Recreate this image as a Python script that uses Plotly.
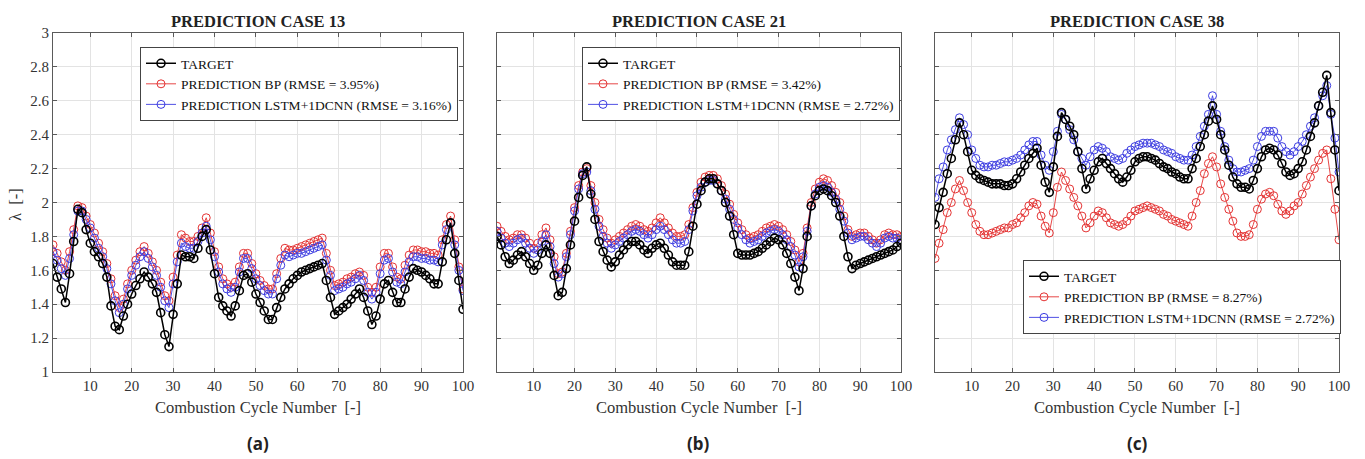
import plotly.graph_objects as go

cycles = list(range(1, 101))

# ---- Case 13 ----
c13_target = [1.64, 1.56, 1.49, 1.41, 1.58, 1.77, 1.96, 1.94, 1.84, 1.76,
              1.71, 1.68, 1.64, 1.56, 1.39, 1.27, 1.25, 1.33, 1.40, 1.46,
              1.51, 1.55, 1.59, 1.56, 1.52, 1.47, 1.35, 1.22, 1.15, 1.34,
              1.52, 1.69, 1.68, 1.68, 1.67, 1.73, 1.80, 1.84, 1.72, 1.58,
              1.44, 1.39, 1.36, 1.33, 1.39, 1.48, 1.57, 1.58, 1.53, 1.46,
              1.41, 1.36, 1.31, 1.31, 1.38, 1.44, 1.49, 1.52, 1.55, 1.57,
              1.59, 1.60, 1.61, 1.62, 1.63, 1.64, 1.54, 1.44, 1.34, 1.36,
              1.38, 1.40, 1.43, 1.46, 1.49, 1.44, 1.36, 1.28, 1.33, 1.43,
              1.52, 1.54, 1.47, 1.41, 1.41, 1.49, 1.56, 1.61, 1.60, 1.59,
              1.57, 1.55, 1.52, 1.52, 1.65, 1.78, 1.88, 1.70, 1.54, 1.37]
c13_bp = [1.75, 1.70, 1.65, 1.60, 1.71, 1.84, 1.98, 1.97, 1.92, 1.87,
          1.82, 1.76, 1.71, 1.64, 1.55, 1.45, 1.38, 1.43, 1.52, 1.60,
          1.66, 1.71, 1.74, 1.70, 1.65, 1.60, 1.53, 1.45, 1.42, 1.56,
          1.69, 1.81, 1.79, 1.77, 1.77, 1.80, 1.85, 1.91, 1.82, 1.71,
          1.62, 1.55, 1.52, 1.50, 1.53, 1.62, 1.70, 1.70, 1.64, 1.58,
          1.54, 1.51, 1.49, 1.49, 1.58, 1.67, 1.73, 1.72, 1.72, 1.73,
          1.74, 1.75, 1.76, 1.77, 1.78, 1.79, 1.70, 1.60, 1.51, 1.52,
          1.53, 1.55, 1.56, 1.58, 1.59, 1.57, 1.50, 1.47, 1.50, 1.62,
          1.70, 1.70, 1.62, 1.56, 1.55, 1.63, 1.69, 1.72, 1.72, 1.71,
          1.71, 1.70, 1.70, 1.69, 1.78, 1.87, 1.92, 1.78, 1.62, 1.49]
c13_lstm = [1.71, 1.66, 1.61, 1.57, 1.67, 1.81, 1.95, 1.95, 1.90, 1.85,
            1.79, 1.73, 1.68, 1.61, 1.52, 1.42, 1.35, 1.40, 1.49, 1.57,
            1.63, 1.68, 1.71, 1.67, 1.62, 1.57, 1.50, 1.42, 1.38, 1.52,
            1.65, 1.76, 1.74, 1.73, 1.73, 1.77, 1.82, 1.86, 1.78, 1.68,
            1.59, 1.52, 1.49, 1.47, 1.50, 1.59, 1.67, 1.67, 1.61, 1.55,
            1.51, 1.48, 1.46, 1.46, 1.55, 1.63, 1.69, 1.68, 1.69, 1.70,
            1.70, 1.71, 1.72, 1.73, 1.74, 1.75, 1.66, 1.57, 1.48, 1.49,
            1.50, 1.52, 1.53, 1.55, 1.57, 1.54, 1.47, 1.43, 1.47, 1.58,
            1.66, 1.67, 1.59, 1.53, 1.52, 1.59, 1.65, 1.68, 1.68, 1.67,
            1.67, 1.66, 1.66, 1.65, 1.75, 1.84, 1.88, 1.75, 1.60, 1.48]

# ---- Case 21 ----
c21_target = [1.80, 1.75, 1.68, 1.64, 1.66, 1.69, 1.71, 1.68, 1.64, 1.60,
              1.63, 1.70, 1.75, 1.70, 1.57, 1.45, 1.47, 1.61, 1.75, 1.89,
              2.03, 2.16, 2.21, 2.05, 1.90, 1.77, 1.71, 1.66, 1.62, 1.65,
              1.69, 1.72, 1.75, 1.77, 1.77, 1.75, 1.72, 1.70, 1.73, 1.75,
              1.76, 1.73, 1.69, 1.65, 1.63, 1.63, 1.63, 1.71, 1.86, 1.99,
              2.07, 2.12, 2.14, 2.14, 2.11, 2.07, 2.00, 1.92, 1.81, 1.70,
              1.69, 1.69, 1.69, 1.70, 1.71, 1.73, 1.75, 1.77, 1.79, 1.78,
              1.75, 1.70, 1.64, 1.56, 1.48, 1.61, 1.80, 1.98, 2.04, 2.07,
              2.08, 2.07, 2.04, 2.00, 1.92, 1.80, 1.68, 1.61, 1.63, 1.64,
              1.65, 1.66, 1.67, 1.68, 1.69, 1.70, 1.71, 1.72, 1.74, 1.76]
c21_bp = [1.86, 1.83, 1.80, 1.78, 1.79, 1.81, 1.81, 1.79, 1.76, 1.73,
          1.76, 1.81, 1.85, 1.78, 1.68, 1.58, 1.59, 1.70, 1.83, 1.97,
          2.10, 2.18, 2.20, 2.10, 2.00, 1.90, 1.84, 1.79, 1.76, 1.78,
          1.80, 1.82, 1.84, 1.86, 1.87, 1.86, 1.84, 1.83, 1.85, 1.88,
          1.91, 1.88, 1.85, 1.82, 1.80, 1.80, 1.81, 1.87, 1.97, 2.06,
          2.12, 2.15, 2.16, 2.16, 2.14, 2.10, 2.05, 1.99, 1.93, 1.88,
          1.84, 1.81, 1.79, 1.80, 1.81, 1.83, 1.85, 1.86, 1.87, 1.86,
          1.84, 1.81, 1.77, 1.72, 1.65, 1.70, 1.85, 2.00, 2.08, 2.12,
          2.14, 2.13, 2.10, 2.06, 2.00, 1.92, 1.84, 1.80, 1.81, 1.82,
          1.82, 1.80, 1.78, 1.76, 1.78, 1.81, 1.82, 1.81, 1.81, 1.80]
c21_lstm = [1.83, 1.79, 1.76, 1.74, 1.76, 1.78, 1.79, 1.76, 1.73, 1.70,
            1.72, 1.77, 1.81, 1.74, 1.64, 1.56, 1.58, 1.68, 1.81, 1.95,
            2.08, 2.17, 2.18, 2.07, 1.96, 1.86, 1.80, 1.76, 1.73, 1.75,
            1.77, 1.79, 1.81, 1.83, 1.84, 1.83, 1.81, 1.79, 1.81, 1.84,
            1.86, 1.84, 1.81, 1.78, 1.76, 1.76, 1.77, 1.84, 1.95, 2.04,
            2.09, 2.12, 2.13, 2.13, 2.11, 2.07, 2.02, 1.96, 1.90, 1.85,
            1.81, 1.78, 1.76, 1.77, 1.78, 1.80, 1.82, 1.83, 1.84, 1.83,
            1.81, 1.78, 1.74, 1.69, 1.62, 1.68, 1.83, 1.98, 2.05, 2.09,
            2.10, 2.09, 2.06, 2.02, 1.96, 1.89, 1.82, 1.78, 1.79, 1.80,
            1.80, 1.78, 1.76, 1.74, 1.76, 1.79, 1.80, 1.79, 1.79, 1.78]

# ---- Case 38 ----
c38_target = [1.87, 1.97, 2.06, 2.17, 2.26, 2.37, 2.47, 2.40, 2.30, 2.19,
              2.16, 2.14, 2.13, 2.12, 2.11, 2.11, 2.11, 2.10, 2.10, 2.11,
              2.14, 2.18, 2.22, 2.26, 2.29, 2.32, 2.22, 2.12, 2.06, 2.21,
              2.39, 2.53, 2.49, 2.45, 2.40, 2.30, 2.20, 2.08, 2.14, 2.19,
              2.24, 2.26, 2.23, 2.20, 2.17, 2.14, 2.12, 2.15, 2.19, 2.24,
              2.26, 2.27, 2.27, 2.26, 2.25, 2.23, 2.21, 2.20, 2.18, 2.17,
              2.15, 2.14, 2.14, 2.20, 2.26, 2.33, 2.40, 2.48, 2.57, 2.49,
              2.40, 2.31, 2.22, 2.15, 2.11, 2.09, 2.09, 2.08, 2.13, 2.20,
              2.27, 2.31, 2.32, 2.31, 2.28, 2.23, 2.18, 2.16, 2.17, 2.20,
              2.24, 2.31, 2.39, 2.47, 2.57, 2.65, 2.75, 2.53, 2.31, 2.07]
c38_bp = [1.67, 1.76, 1.84, 1.94, 2.00, 2.08, 2.13, 2.07, 2.00, 1.94,
          1.87, 1.83, 1.81, 1.81, 1.82, 1.83, 1.84, 1.85, 1.85, 1.87,
          1.88, 1.91, 1.94, 1.98, 2.00, 1.99, 1.92, 1.86, 1.82, 1.94,
          2.09, 2.18, 2.13, 2.08, 2.03, 1.98, 1.92, 1.85, 1.88, 1.92,
          1.95, 1.94, 1.91, 1.88, 1.87, 1.86, 1.87, 1.89, 1.92, 1.95,
          1.96, 1.97, 1.98, 1.97, 1.96, 1.95, 1.93, 1.92, 1.90, 1.89,
          1.88, 1.87, 1.86, 1.92, 2.00, 2.07, 2.17, 2.23, 2.27, 2.21,
          2.11, 2.03, 1.96, 1.89, 1.82, 1.80, 1.80, 1.81, 1.87, 1.96,
          2.02, 2.05, 2.06, 2.04, 1.99, 1.95, 1.93, 1.95, 1.98, 2.00,
          2.05, 2.10, 2.15, 2.20, 2.25, 2.29, 2.31, 2.14, 1.96, 1.78]
c38_lstm = [2.03, 2.14, 2.21, 2.31, 2.37, 2.43, 2.50, 2.46, 2.40, 2.31,
            2.26, 2.22, 2.21, 2.21, 2.22, 2.22, 2.23, 2.24, 2.24, 2.25,
            2.26, 2.28, 2.31, 2.34, 2.36, 2.36, 2.28, 2.22, 2.19, 2.30,
            2.42, 2.52, 2.49, 2.43, 2.37, 2.30, 2.26, 2.22, 2.27, 2.31,
            2.33, 2.32, 2.30, 2.27, 2.26, 2.25, 2.26, 2.29, 2.31, 2.33,
            2.34, 2.35, 2.35, 2.35, 2.34, 2.33, 2.31, 2.30, 2.29, 2.27,
            2.26, 2.25, 2.25, 2.28, 2.33, 2.39, 2.45, 2.52, 2.63, 2.52,
            2.42, 2.33, 2.25, 2.20, 2.18, 2.18, 2.19, 2.20, 2.25, 2.33,
            2.39, 2.42, 2.42, 2.42, 2.38, 2.33, 2.30, 2.28, 2.30, 2.33,
            2.36, 2.40, 2.45, 2.50, 2.57, 2.63, 2.69, 2.52, 2.38, 2.18]

titles = ["PREDICTION CASE 13", "PREDICTION CASE 21", "PREDICTION CASE 38"]
panel_labels = ["(a)", "(b)", "(c)"]
rmse_bp = ["3.95%", "3.42%", "8.27%"]
rmse_lstm = ["3.16%", "2.72%", "2.72%"]
x_ticks = [10, 20, 30, 40, 50, 60, 70, 80, 90, 100]

W, H = 1365, 459
x_doms = [(53 / W, 463 / W), (497 / W, 901 / W), (935 / W, 1339 / W)]
y_dom = (1 - 372 / H, 1 - 33 / H)
legend_pos = [(140 / W, 1 - 47 / H), (582 / W, 1 - 47 / H), (1023 / W, 1 - 260 / H)]

SERIF = "Liberation Serif, Times New Roman, serif"
RED = "rgb(228,50,50)"
BLUE = "rgb(60,60,225)"
AX = "#5a5a5a"

data = [(c13_target, c13_bp, c13_lstm), (c21_target, c21_bp, c21_lstm),
        (c38_target, c38_bp, c38_lstm)]

fig = go.Figure()
layout = dict(width=W, height=H, margin=dict(l=0, r=0, t=0, b=0), autosize=False,
              paper_bgcolor="white", plot_bgcolor="white", showlegend=True)
annotations = []

for i, (tgt, bp, lstm) in enumerate(data):
    n = "" if i == 0 else str(i + 1)
    xa, ya = "x" + n, "y" + n
    leg = "legend" if i == 0 else "legend" + str(i + 1)
    fig.add_trace(go.Scatter(x=cycles, y=bp, mode="lines+markers", xaxis=xa, yaxis=ya,
                             name=f"PREDICTION BP (RMSE = {rmse_bp[i]})", legend=leg, legendrank=2,
                             line=dict(color=RED, width=0.9),
                             marker=dict(symbol="circle-open", size=8, color=RED, line=dict(width=1))))
    fig.add_trace(go.Scatter(x=cycles, y=lstm, mode="lines+markers", xaxis=xa, yaxis=ya,
                             name=f"PREDICTION LSTM+1DCNN (RMSE = {rmse_lstm[i]})", legend=leg, legendrank=3,
                             line=dict(color=BLUE, width=0.9),
                             marker=dict(symbol="circle-open", size=8, color=BLUE, line=dict(width=1))))
    fig.add_trace(go.Scatter(x=cycles, y=tgt, mode="lines+markers", xaxis=xa, yaxis=ya,
                             name="TARGET", legend=leg, legendrank=1,
                             line=dict(color="black", width=1.5),
                             marker=dict(symbol="circle-open", size=8, color="black", line=dict(width=1.6))))
    axcommon = dict(showline=True, linecolor=AX, linewidth=1, mirror="ticks", ticks="inside",
                    ticklen=4, tickcolor=AX, showgrid=True, gridcolor="#e3e3e3", gridwidth=1,
                    zeroline=False, automargin=False,
                    tickfont=dict(family=SERIF, size=15, color="#333"))
    layout["xaxis" + n] = dict(axcommon, domain=x_doms[i], range=[1, 100], tickvals=x_ticks,
                               anchor=ya,
                               title=dict(text="Combustion Cycle Number  [-]",
                                          font=dict(family=SERIF, size=16.5, color="#333"), standoff=8))
    layout["yaxis" + n] = dict(axcommon, domain=y_dom, range=[1, 3], dtick=0.2, tick0=1,
                               anchor=xa, showticklabels=(i == 0))
    lx, ly = legend_pos[i]
    layout[leg] = dict(x=lx, y=ly, xanchor="left", yanchor="top", bgcolor="white",
                       bordercolor="#444", borderwidth=1, tracegroupgap=0,
                       font=dict(family=SERIF, size=13.5, color="#111"),
                       itemwidth=30, traceorder="normal")
    cx = (x_doms[i][0] + x_doms[i][1]) / 2
    annotations.append(dict(text=f"<b>{titles[i]}</b>", x=cx, y=1 - 22 / H, xref="paper", yref="paper",
                            xanchor="center", yanchor="middle", showarrow=False,
                            font=dict(family=SERIF, size=16.5, color="#222")))
    annotations.append(dict(text=f"<b>{panel_labels[i]}</b>", x=cx, y=1 - 443 / H, xref="paper",
                            yref="paper", xanchor="center", yanchor="middle", showarrow=False,
                            font=dict(family="Noto Sans", size=17, color="#222")))

annotations.append(dict(text="λ  [-]", x=15 / W, y=1 - 205 / H, xref="paper", yref="paper",
                        xanchor="center", yanchor="middle", showarrow=False, textangle=-90,
                        font=dict(family=SERIF, size=16.5, color="#333")))
layout["annotations"] = annotations
fig.update_layout(**layout)
fig.write_html("out.html", config={"displayModeBar": False},
               post_script="document.body.style.margin='0';document.body.style.overflow='hidden';")
